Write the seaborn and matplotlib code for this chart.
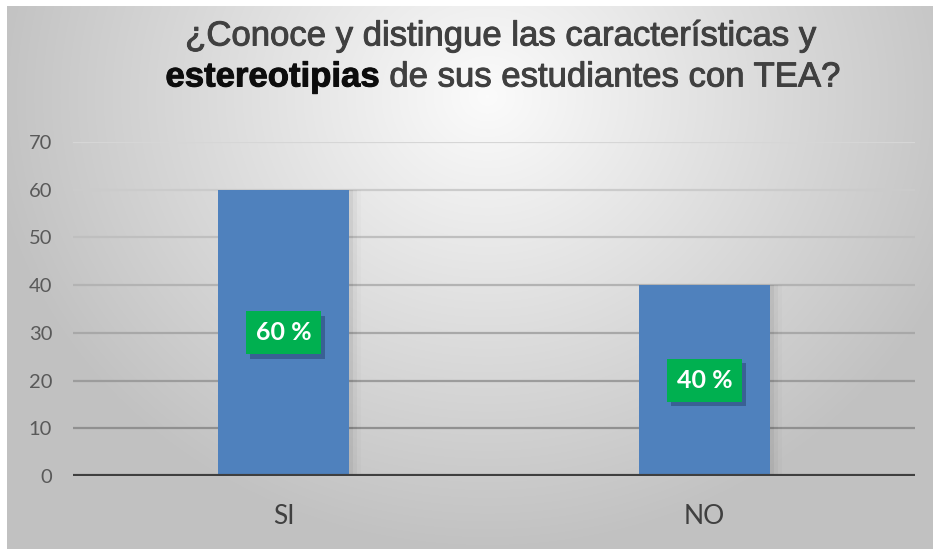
import numpy as np
import pandas as pd
import matplotlib.pyplot as plt
import matplotlib.patheffects as pe
import seaborn as sns

# --- data ---
categories = ["SI", "NO"]
values = [60, 40]
labels = ["60 %", "40 %"]
yticks = [0, 10, 20, 30, 40, 50, 60, 70]

df = pd.DataFrame({"respuesta": categories, "porcentaje": values})

sns.set_theme(style="white")
plt.rcParams["font.family"] = ["Liberation Sans", "DejaVu Sans"]

W, H, DPI = 933, 549, 100
fig = plt.figure(figsize=(W / DPI, H / DPI), dpi=DPI)
fig.patch.set_facecolor("white")

# --- radial gray gradient background (chart area starts after a small white margin) ---
bg = fig.add_axes([7 / W, 0, 1 - 7 / W, 1 - 6 / H])
yy, xx = np.mgrid[0:543, 0:926]
d = np.sqrt(((xx - 480) / 620.0) ** 2 + ((yy - 90) / 560.0) ** 2)
shade = np.clip(0.985 - 0.28 * d, 0.76, 0.985)
bg.imshow(np.dstack([shade] * 3), aspect="auto", extent=[0, 1, 0, 1])
bg.set_axis_off()

# --- bar chart ---
ax = fig.add_axes([73 / W, 1 - 476 / H, (915 - 73) / W, (476 - 142) / H])
ax.patch.set_alpha(0)
sns.barplot(data=df, x="respuesta", y="porcentaje", color="#4F81BD",
            saturation=1, width=0.31, ax=ax, zorder=3)
for p in ax.patches:
    p.set_edgecolor("none")
    # soft shadow to the right of each bar
    for k, a in enumerate([0.05, 0.03, 0.015]):
        sh = plt.Rectangle((p.get_x() + p.get_width(), 0), 0.01 * (k + 1), p.get_height(),
                           color="black", alpha=a, lw=0, zorder=2)
        ax.add_patch(sh)

ax.set_ylim(0, 70)
ax.set_xlim(-0.5, 1.5)
ax.set_yticks(yticks)
ax.set_xlabel("")
ax.set_ylabel("")
for s in ax.spines.values():
    s.set_visible(False)

# gridlines, lighter toward the top
for t in yticks[1:]:
    g = 0.52 + 0.32 * (t / 70.0)
    ax.axhline(t, color=(g, g, g), lw=1.6, zorder=1)
ax.axhline(0, color="#3f3f3f", lw=3, zorder=4)

ax.tick_params(axis="y", length=0, pad=15, labelsize=14.5, labelcolor="#595959")
ax.tick_params(axis="x", length=0, pad=20, labelsize=19, labelcolor="#404040")
for lb in ax.get_yticklabels() + ax.get_xticklabels():
    lb.set_family(["Lato", "DejaVu Sans"])

# data labels: green boxes at mid-bar, with a drop shadow
for i, (v, lab) in enumerate(zip(values, labels)):
    t = ax.text(i, v / 2, lab, ha="center", va="center", color="white",
                fontsize=18, fontweight="bold", family=["Lato", "DejaVu Sans"],
                bbox=dict(boxstyle="square,pad=0.4", fc="#00B050", ec="none"),
                zorder=6)
    t.get_bbox_patch().set_path_effects([
        pe.SimplePatchShadow(offset=(3, -3), shadow_rgbFace="#1F3A64", alpha=0.45),
        pe.Normal()])

# --- title, second line with bold word ---
title_size = 25
fig.text(0.537, 1 - 36 / H, "¿Conoce y distingue las características y", ha="center",
         va="center", fontsize=title_size, color="#404040",
         path_effects=[pe.withStroke(linewidth=0.7, foreground="#404040")])
parts = [("estereotipias", "bold", "#0d0d0d"), (" de sus estudiantes con TEA?", "normal", "#404040")]
fig.canvas.draw()
r = fig.canvas.get_renderer()
txts = []
for s, w, c in parts:
    t = fig.text(0, 1 - 77 / H, s, ha="left", va="center", fontsize=title_size,
                 fontweight=w, color=c,
                 path_effects=[pe.withStroke(linewidth=0.7, foreground=c)])
    txts.append(t)
widths = [t.get_window_extent(r).width for t in txts]
x0 = 0.539 * W - sum(widths) / 2
for t, w in zip(txts, widths):
    t.set_x(x0 / W)
    x0 += w

fig.savefig("out.png", dpi=DPI)
